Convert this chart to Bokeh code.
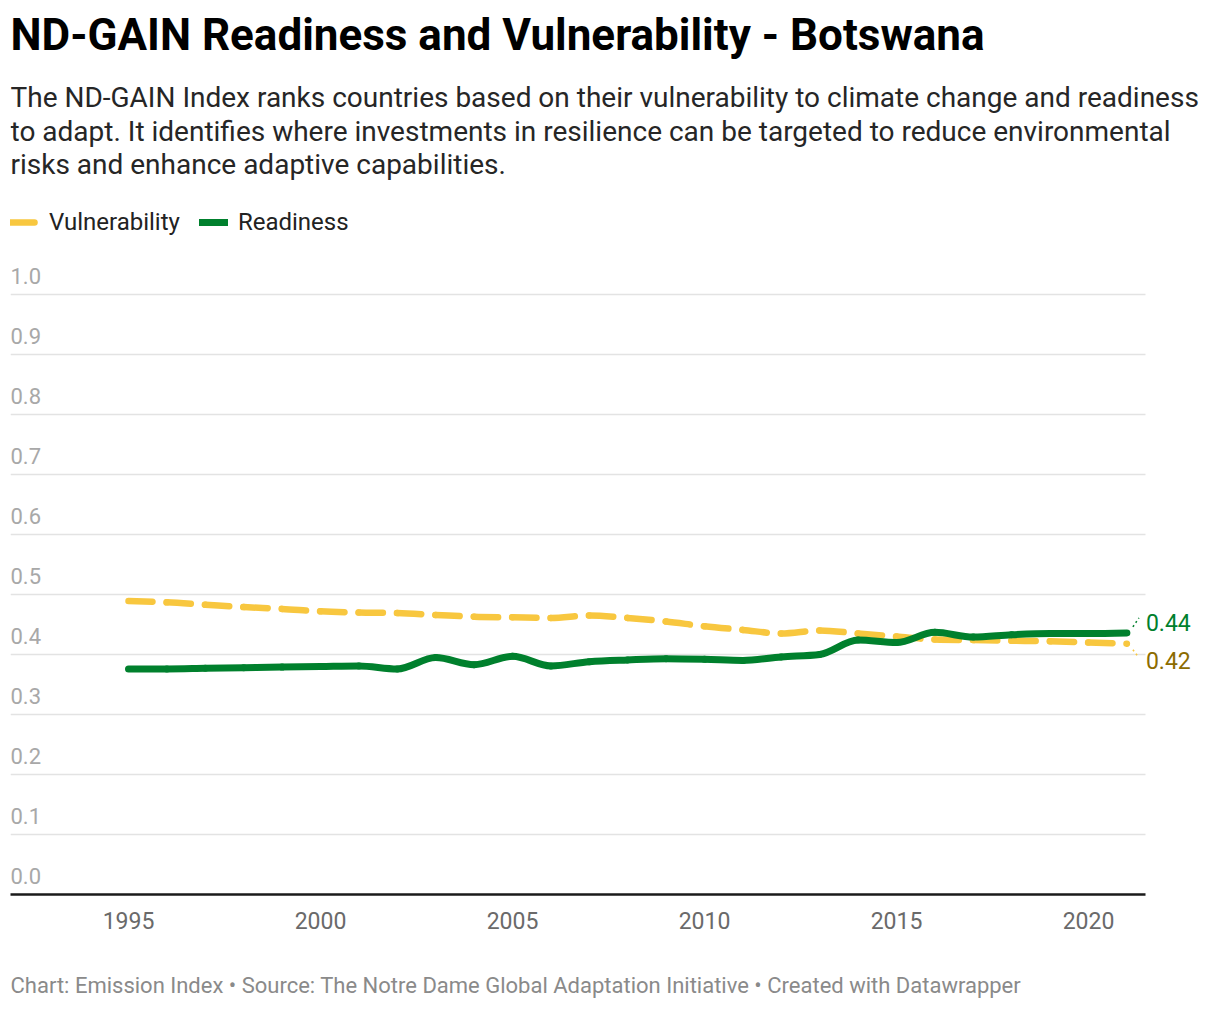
from bokeh.plotting import figure
from bokeh.layouts import column
from bokeh.models import (Range1d, FixedTicker, Label, Legend, LegendItem,
                          ColumnDataSource)
from bokeh.core.properties import value
from bokeh.embed import file_html
from bokeh.resources import INLINE

# ---------------- data ----------------
years = [1995, 1996, 1997, 1998, 1999, 2000, 2001, 2002, 2003, 2004, 2005,
         2006, 2007, 2008, 2009, 2010, 2011, 2012, 2013, 2014, 2015, 2016,
         2017, 2018, 2019, 2020, 2021]
vulnerability = [0.489, 0.487, 0.483, 0.479, 0.476, 0.472, 0.470, 0.469,
                 0.466, 0.463, 0.462, 0.461, 0.465, 0.461, 0.455, 0.447,
                 0.441, 0.435, 0.440, 0.435, 0.430, 0.425, 0.424, 0.423,
                 0.422, 0.420, 0.418]
readiness = [0.376, 0.376, 0.377, 0.378, 0.379, 0.380, 0.381, 0.376, 0.395,
             0.383, 0.397, 0.381, 0.388, 0.391, 0.393, 0.392, 0.390, 0.396,
             0.400, 0.424, 0.420, 0.437, 0.429, 0.433, 0.435, 0.435, 0.436]
x_ticks = [1995, 2000, 2005, 2010, 2015, 2020]
y_ticks = [0.0, 0.1, 0.2, 0.3, 0.4, 0.5, 0.6, 0.7, 0.8, 0.9, 1.0]
y_tick_labels = ["0.0", "0.1", "0.2", "0.3", "0.4", "0.5", "0.6", "0.7",
                 "0.8", "0.9", "1.0"]

title_text = "ND-GAIN Readiness and Vulnerability - Botswana"
subtitle_lines = [
    "The ND-GAIN Index ranks countries based on their vulnerability to climate change and readiness",
    "to adapt. It identifies where investments in resilience can be targeted to reduce environmental",
    "risks and enhance adaptive capabilities.",
]
footer_text = ("Chart: Emission Index \u2022 Source: The Notre Dame Global Adaptation "
               "Initiative \u2022 Created with Datawrapper")

YELLOW = "#f8c73f"
GREEN = "#00802d"
GOLD_TEXT = "#8c6c00"
FONT = "Roboto"

# ---------------- geometry (pixels) ----------------
W = 1204
H_MAIN = 944
H_FOOT = 58
FRAME_LEFT = 10          # frame left edge in px
FRAME_BOTTOM = 894       # frame bottom (y = 0) in px from top
PX_PER_YEAR = 38.4
PX_PER_UNIT = 600.0
X0_PX = 128              # pixel position of the first year
AXIS_END_PX = 1145       # where the axis line and gridlines stop

x_start = years[0] - (X0_PX - FRAME_LEFT) / PX_PER_YEAR
x_end = years[0] + (W - X0_PX) / PX_PER_YEAR
x_axis_end = years[0] + (AXIS_END_PX - X0_PX) / PX_PER_YEAR
y_end = FRAME_BOTTOM / PX_PER_UNIT


def monotone_bezier(xs, ys):
    """Cubic bezier pieces of a monotone-x curve through the data points."""
    n = len(xs)
    h = [xs[i + 1] - xs[i] for i in range(n - 1)]
    s = [(ys[i + 1] - ys[i]) / h[i] for i in range(n - 1)]
    t = [0.0] * n

    def sgn(v):
        return (v > 0) - (v < 0)

    for i in range(1, n - 1):
        p_ = (s[i - 1] * h[i] + s[i] * h[i - 1]) / (h[i - 1] + h[i])
        t[i] = (sgn(s[i - 1]) + sgn(s[i])) * min(abs(s[i - 1]), abs(s[i]), 0.5 * abs(p_))
    t[0] = (3 * s[0] - t[1]) / 2
    t[-1] = (3 * s[-1] - t[-2]) / 2
    d = dict(x0=[], y0=[], x1=[], y1=[], cx0=[], cy0=[], cx1=[], cy1=[])
    for i in range(n - 1):
        dx = h[i] / 3.0
        d["x0"].append(xs[i]); d["y0"].append(ys[i])
        d["x1"].append(xs[i + 1]); d["y1"].append(ys[i + 1])
        d["cx0"].append(xs[i] + dx); d["cy0"].append(ys[i] + dx * t[i])
        d["cx1"].append(xs[i + 1] - dx); d["cy1"].append(ys[i + 1] - dx * t[i + 1])
    return ColumnDataSource(d)


p = figure(width=W, height=H_MAIN, output_backend="svg", toolbar_location=None,
           x_range=Range1d(x_start, x_end), y_range=Range1d(0, y_end),
           min_border_left=FRAME_LEFT, min_border_right=0, min_border_top=0,
           min_border_bottom=H_MAIN - FRAME_BOTTOM)
p.outline_line_color = None
p.background_fill_color = "white"
p.border_fill_color = "white"

# gridlines (stop at the end of the axis)
p.xgrid.visible = False
grid_ok = True
try:
    p.ygrid.cross_bounds = (x_start, x_axis_end)
except Exception:
    grid_ok = False
if grid_ok:
    p.ygrid.ticker = FixedTicker(ticks=y_ticks[1:])
    p.ygrid.grid_line_color = "#e3e3e3"
    p.ygrid.grid_line_width = 1.5
else:
    p.ygrid.visible = False
    gsrc = ColumnDataSource(dict(x0=[x_start] * 10, x1=[x_axis_end] * 10,
                                 y=y_ticks[1:]))
    p.segment(x0="x0", y0="y", x1="x1", y1="y", source=gsrc,
              line_color="#e3e3e3", line_width=1.5)

p.yaxis.visible = False
xa = p.xaxis[0]
xa.ticker = FixedTicker(ticks=x_ticks)
xa.bounds = (x_start, x_axis_end)
xa.axis_line_color = "#1a1a1a"
xa.axis_line_width = 2.5
xa.major_tick_line_color = None
xa.minor_tick_line_color = None
xa.major_tick_out = 0
xa.major_tick_in = 0
xa.major_label_standoff = 17
xa.major_label_text_font = FONT
xa.major_label_text_font_size = "23px"
xa.major_label_text_color = "#6a6a6a"

# y tick labels sitting above the gridlines at the left edge
ysrc = ColumnDataSource(dict(x=[x_start] * len(y_ticks),
                             y=[v + 19 / PX_PER_UNIT for v in y_ticks],
                             t=y_tick_labels))
p.text(x="x", y="y", text="t", source=ysrc, text_font=value(FONT),
       text_font_size="22px", text_color="#a8a8a8", text_baseline="middle",
       text_align="left")

# series
vsrc = monotone_bezier(years, vulnerability)
rsrc = monotone_bezier(years, readiness)
rv = p.bezier(x0="x0", y0="y0", x1="x1", y1="y1", cx0="cx0", cy0="cy0",
              cx1="cx1", cy1="cy1", source=vsrc, line_color=YELLOW,
              line_width=6.5, line_dash="24 14", line_cap="round")
rr = p.bezier(x0="x0", y0="y0", x1="x1", y1="y1", cx0="cx0", cy0="cy0",
              cx1="cx1", cy1="cy1", source=rsrc, line_color=GREEN,
              line_width=7, line_cap="round")

# end value labels with small dotted connectors
end_src = ColumnDataSource(dict(
    x=[years[-1] + 19 / PX_PER_YEAR] * 2,
    y=[readiness[-1] + 10 / PX_PER_UNIT, vulnerability[-1] - 17 / PX_PER_UNIT],
    t=["%.2f" % readiness[-1], "%.2f" % vulnerability[-1]],
    c=[GREEN, GOLD_TEXT],
))
p.text(x="x", y="y", text="t", source=end_src, text_color="c",
       text_font=value(FONT), text_font_size="23px", text_baseline="middle",
       text_align="left")
conn = ColumnDataSource(dict(
    x0=[years[-1] + 6 / PX_PER_YEAR] * 2,
    y0=[readiness[-1] + 6 / PX_PER_UNIT, vulnerability[-1] - 6 / PX_PER_UNIT],
    x1=[years[-1] + 12 / PX_PER_YEAR] * 2,
    y1=[readiness[-1] + 15 / PX_PER_UNIT, vulnerability[-1] - 14 / PX_PER_UNIT],
    c=[GREEN, YELLOW],
))
p.segment(x0="x0", y0="y0", x1="x1", y1="y1", source=conn, line_color="c",
          line_width=1.5, line_dash="2 3")

# legend above the plot area
legend = Legend(items=[LegendItem(label="Vulnerability", renderers=[rv]),
                       LegendItem(label="Readiness", renderers=[rr])],
                orientation="horizontal", location=(0, FRAME_BOTTOM - 236),
                glyph_width=29, glyph_height=20, label_standoff=10,
                spacing=19, padding=0, margin=0,
                label_text_font=FONT, label_text_font_size="24px",
                label_text_color="#222222",
                border_line_color=None, background_fill_alpha=0)
p.add_layout(legend, "center")


def page_label(fig, text, x_px, center_px, size, color, style="normal"):
    fig.add_layout(Label(x=x_px - FRAME_LEFT, y=FRAME_BOTTOM - center_px,
                         x_units="screen", y_units="screen", text=text,
                         text_font=FONT, text_font_size=size, text_color=color,
                         text_font_style=style, text_baseline="middle",
                         text_align="left"))


page_label(p, title_text, 10, 34, "44px", "#000000", "bold")
for i, line in enumerate(subtitle_lines):
    page_label(p, line, 10, 97 + i * 33.7, "28px", "#262626")

# footer strip (its frame starts 10px in, like the main chart's frame)
foot = figure(width=W, height=H_FOOT, output_backend="svg",
              toolbar_location=None, x_range=Range1d(0, 1), y_range=Range1d(0, 1),
              min_border=0)
foot.axis.visible = False
foot.grid.visible = False
foot.outline_line_color = None
foot.background_fill_color = "white"
foot.border_fill_color = "white"
foot.add_layout(Label(x=0, y=H_FOOT - (985 - H_MAIN), x_units="screen",
                      y_units="screen", text=footer_text, text_font=FONT,
                      text_font_size="22px", text_color="#8a8a8a",
                      text_baseline="middle", text_align="left"))

layout = column(p, foot, spacing=0)
open("out.html", "w").write(file_html(layout, INLINE))
